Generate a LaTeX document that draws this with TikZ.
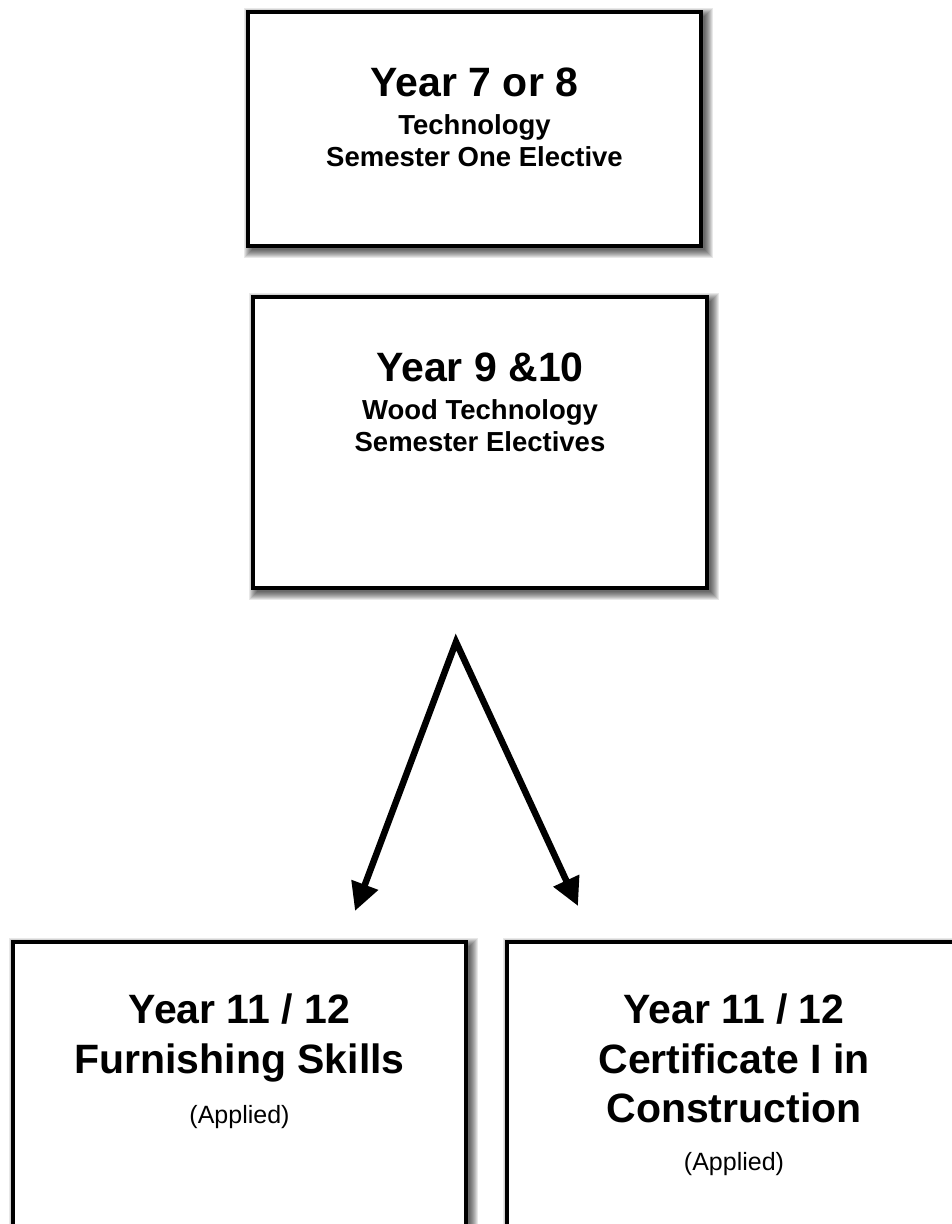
\documentclass[tikz,border=0pt]{standalone}
\usepackage{fontspec}
\setmainfont{Liberation Sans}
\usetikzlibrary{arrows.meta,calc}
\newcommand\bigfont{\fontsize{41}{49}\selectfont\bfseries}
\newcommand\midfont{\fontsize{27.5}{33}\selectfont\bfseries}
\newcommand\smallfont{\fontsize{25}{30}\selectfont}
\newcommand\boxshadow[1]{%
  \foreach \g in {-2,-1,...,6}{%
    \fill[black,fill opacity=0.09]
      ($(#1.north west)+(4-\g,4-\g)$) rectangle ($(#1.south east)+(4+\g,4+\g)$);
  }%
}
\tikzset{
  panel/.style={draw=black, fill=white, line width=4pt, rectangle, inner sep=0pt},
  line/.style={anchor=base, inner sep=0pt, text=black},
  flowarrow/.style={line width=6.5pt, line join=miter,
    {Triangle[length=28pt,width=27pt]}-{Triangle[length=28pt,width=27pt]}}
}
\begin{document}
\begin{tikzpicture}[x=1pt,y=-1pt]
\useasboundingbox (0,0) rectangle (952,1224);
\clip (0,0) rectangle (952,1224);
\fill[white] (0,0) rectangle (952,1224);

% box geometry (invisible placeholders for shadows)
\path (474.5,129) node[panel, draw=none, fill=none, minimum width=453pt, minimum height=234pt] (s1) {};
\path (480,442.5) node[panel, draw=none, fill=none, minimum width=454pt, minimum height=291pt] (s2) {};
\path (239.5,1101) node[panel, draw=none, fill=none, minimum width=453pt, minimum height=318pt] (s3) {};
\path (734,1101) node[panel, draw=none, fill=none, minimum width=454pt, minimum height=318pt] (s4) {};

\boxshadow{s1}
\boxshadow{s2}
\boxshadow{s3}
\boxshadow{s4}

\node[panel, minimum width=453pt, minimum height=234pt] (b1) at (474.5,129) {};
\node[panel, minimum width=454pt, minimum height=291pt] (b2) at (480,442.5) {};
\node[panel, minimum width=453pt, minimum height=318pt] (b3) at (239.5,1101) {};
\node[panel, minimum width=454pt, minimum height=318pt] (b4) at (734,1101) {};

% box 1 text
\node[line, font=\bigfont] (t1a) at (474.5,96) {Year 7 or 8};
\node[line, font=\midfont] (t1b) at (474.5,134) {Technology};
\node[line, font=\midfont] (t1c) at (474.5,166) {Semester One Elective};

% box 2 text
\node[line, font=\bigfont] (t2a) at (480,381) {Year 9 \&10};
\node[line, font=\midfont] (t2b) at (480,419) {Wood Technology};
\node[line, font=\midfont] (t2c) at (480,451) {Semester Electives};

% box 3 text
\node[line, font=\bigfont] (t3a) at (239.5,1023) {Year 11 / 12};
\node[line, font=\bigfont] (t3b) at (239.5,1073) {Furnishing Skills};
\node[line, font=\smallfont] (t3c) at (239.5,1123) {(Applied)};

% box 4 text
\node[line, font=\bigfont] (t4a) at (734,1023) {Year 11 / 12};
\node[line, font=\bigfont] (t4b) at (734,1073) {Certificate I in};
\node[line, font=\bigfont] (t4c) at (734,1122) {Construction};
\node[line, font=\smallfont] (t4d) at (734,1170) {(Applied)};

% arrows
\coordinate (apex) at (456,642);
\coordinate (tipL) at (355,911);
\coordinate (tipR) at (578,906);
\draw[flowarrow] (tipL) -- (apex) -- (tipR);
\end{tikzpicture}
\end{document}
